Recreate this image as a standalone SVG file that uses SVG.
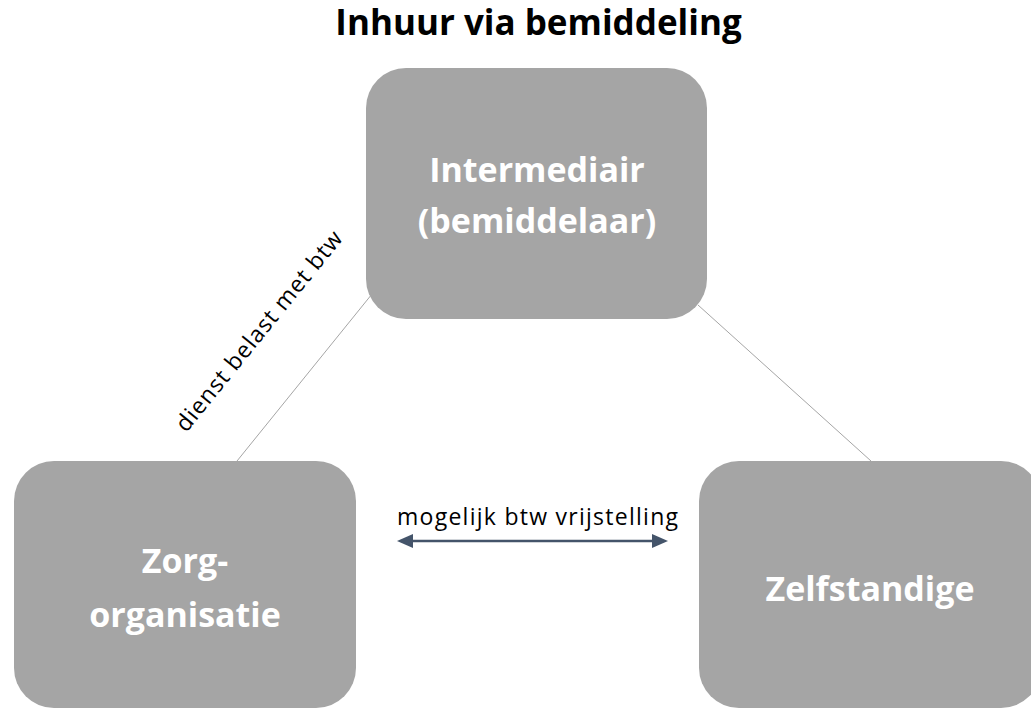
<svg xmlns="http://www.w3.org/2000/svg" width="1031" height="709" viewBox="0 0 1031 709">
<defs>
<style>
.box{fill:#a5a5a5;}
.nl{font-family:"Open Sans","Liberation Sans",sans-serif;font-weight:bold;font-size:34px;fill:#ffffff;text-anchor:middle;}
.conn{stroke:#a5a5a5;stroke-width:1;fill:none;}
.lbl{font-family:"Open Sans","Liberation Sans",sans-serif;font-size:23px;fill:#000000;}
.title{font-family:"Open Sans","Liberation Sans",sans-serif;font-weight:bold;font-size:35px;fill:#000000;text-anchor:middle;}
</style>
<marker id="ah" viewBox="0 0 16 14" refX="8" refY="7" markerWidth="16" markerHeight="14" orient="auto-start-reverse" markerUnits="userSpaceOnUse">
<path d="M0,0 L16,7 L0,14 z" fill="#44546a"/>
</marker>
</defs>
<rect width="1031" height="709" fill="#ffffff"/>
<text class="title" x="538.5" y="35">Inhuur via bemiddeling</text>
<g id="connectors">
<line class="conn" x1="372" y1="294" x2="237" y2="461"/>
<line class="conn" x1="698" y1="305" x2="871" y2="461"/>
<line x1="405" y1="541" x2="660" y2="541" stroke="#44546a" stroke-width="2.5" marker-start="url(#ah)" marker-end="url(#ah)"/>
<text class="lbl" x="397" y="525" textLength="281" lengthAdjust="spacing">mogelijk btw vrijstelling</text>
<text class="lbl" text-anchor="middle" textLength="250" lengthAdjust="spacing" transform="translate(265,336) rotate(-51)">dienst belast met btw</text>
</g>
<g id="node-intermediair">
<rect class="box" x="366" y="68" width="341" height="251" rx="40" ry="40"/>
<text class="nl" x="537" y="182">Intermediair</text>
<text class="nl" x="537" y="233">(bemiddelaar)</text>
</g>
<g id="node-zorg">
<rect class="box" x="14" y="461" width="342" height="247" rx="40" ry="40"/>
<text class="nl" x="185" y="573">Zorg-</text>
<text class="nl" x="185" y="627">organisatie</text>
</g>
<g id="node-zelfstandige">
<rect class="box" x="699" y="461" width="342" height="247" rx="40" ry="40"/>
<text class="nl" x="870" y="601">Zelfstandige</text>
</g>
</svg>
